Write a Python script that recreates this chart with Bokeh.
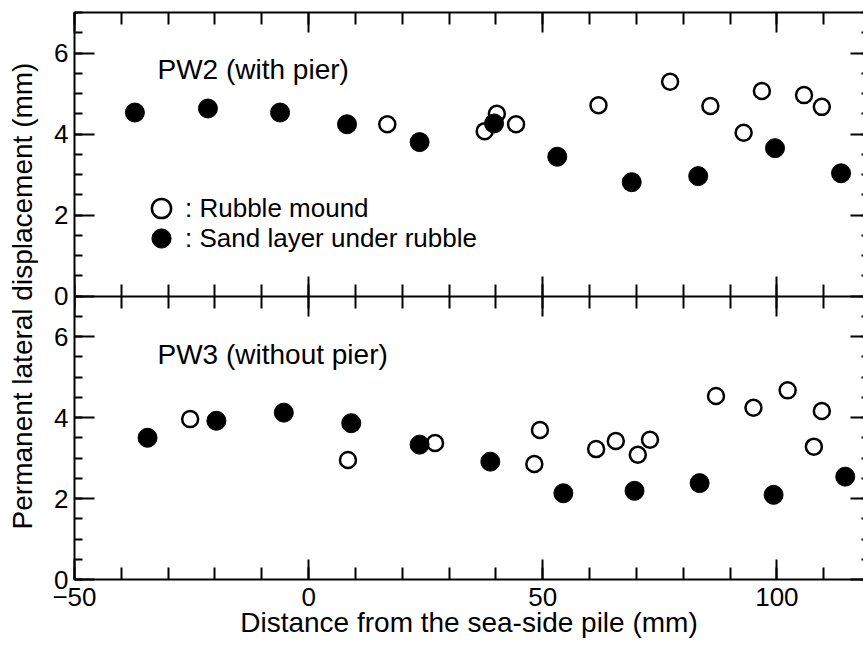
from bokeh.plotting import figure
from bokeh.models import (Range1d, LinearAxis, SingleIntervalTicker, FixedTicker,
                          Legend, LegendItem, Label, ColumnDataSource)
from bokeh.embed import file_html
from bokeh.resources import INLINE

# ---- data (distance from sea-side pile in mm, permanent lateral displacement in mm)
pw2_rubble_x = [16.8, 37.6, 40.2, 44.3, 61.9, 77.2, 85.8, 92.9, 96.8, 105.8, 109.6]
pw2_rubble_y = [4.24, 4.07, 4.50, 4.24, 4.71, 5.29, 4.69, 4.03, 5.06, 4.96, 4.67]
pw2_sand_x = [-37.1, -21.5, -6.1, 8.2, 23.7, 39.6, 53.1, 69.0, 83.2, 99.6, 113.7]
pw2_sand_y = [4.53, 4.63, 4.53, 4.24, 3.80, 4.26, 3.44, 2.81, 2.96, 3.65, 3.03]

pw3_rubble_x = [-25.3, 8.4, 27.0, 48.2, 49.4, 61.4, 65.6, 70.3, 72.9, 87.0, 95.0, 102.3, 107.9, 109.6]
pw3_rubble_y = [3.96, 2.95, 3.37, 2.85, 3.69, 3.22, 3.42, 3.08, 3.45, 4.53, 4.24, 4.67, 3.28, 4.16]
pw3_sand_x = [-34.4, -19.7, -5.3, 9.1, 23.7, 38.8, 54.4, 69.6, 83.5, 99.3, 114.6]
pw3_sand_y = [3.50, 3.92, 4.12, 3.86, 3.33, 2.91, 2.13, 2.19, 2.38, 2.09, 2.54]

panel_titles = ["PW2 (with pier)", "PW3 (without pier)"]
legend_labels = [": Rubble mound", ": Sand layer under rubble"]
y_tick_values = [0, 2, 4, 6]
panel_span = 7          # each panel shows 0..7 mm
x_title = "Distance from the sea-side pile (mm)"
y_title = "Permanent lateral displacement (mm)"

FONT = "Liberation Sans"
TXT = "28px"

p = figure(width=863, height=646, output_backend="svg", toolbar_location=None,
           x_range=Range1d(-50, 118.5), y_range=Range1d(0, 2 * panel_span),
           x_axis_type=None, y_axis_type=None,
           min_border_left=74, min_border_right=0, min_border_top=12, min_border_bottom=67)
p.extra_y_ranges = {"upper": Range1d(-panel_span, panel_span)}
p.outline_line_color = None
p.background_fill_color = "white"
p.border_fill_color = "white"


def style(ax, major_in, minor_in, major_out=0, minor_out=0, labels=True, line=True):
    ax.major_tick_in = major_in
    ax.major_tick_out = major_out
    ax.minor_tick_in = minor_in
    ax.minor_tick_out = minor_out
    ax.major_tick_line_width = 2
    ax.minor_tick_line_width = 2
    ax.major_tick_line_color = "black"
    ax.minor_tick_line_color = "black"
    ax.axis_line_width = 2
    ax.axis_line_color = "black" if line else None
    ax.major_label_text_font = FONT
    if labels:
        ax.major_label_text_font_size = "26px"
        ax.major_label_text_color = "black"
    else:
        ax.major_label_text_font_size = "0px"
        ax.major_label_text_color = None
        ax.major_label_standoff = 0


def x_ticker():
    return SingleIntervalTicker(interval=50, num_minor_ticks=5)


y_major = y_tick_values + [t + panel_span for t in y_tick_values]
y_minor = [i * 0.5 for i in range(0, 4 * panel_span + 1)]
y_overrides = {t: str(t) for t in y_tick_values}
y_overrides.update({t + panel_span: str(t) for t in y_tick_values})

# bottom x axis with labels
xb = LinearAxis(ticker=x_ticker())
style(xb, 20, 12)
xb.major_label_standoff = 8
xb.axis_label = x_title
xb.axis_label_text_font = FONT
xb.axis_label_text_font_size = TXT
xb.axis_label_text_font_style = "normal"
xb.axis_label_text_color = "black"
xb.axis_label_standoff = -2
p.add_layout(xb, "below")

# middle shared border with crossing ticks
xm = LinearAxis(ticker=x_ticker(), fixed_location=panel_span)
style(xm, 20, 12, major_out=20, minor_out=12, labels=False)
p.add_layout(xm, "below")

# top border
xt = LinearAxis(ticker=x_ticker())
style(xt, 20, 12, labels=False)
p.add_layout(xt, "above")

# left axis
yl = LinearAxis(ticker=FixedTicker(ticks=y_major, minor_ticks=y_minor))
style(yl, 20, 8)
yl.major_label_overrides = y_overrides
yl.major_label_standoff = 6
yl.axis_label = y_title
yl.axis_label_text_font = FONT
yl.axis_label_text_font_size = TXT
yl.axis_label_text_font_style = "normal"
yl.axis_label_text_color = "black"
yl.axis_label_standoff = 13
p.add_layout(yl, "left")

# right axis (ticks only)
yr = LinearAxis(ticker=FixedTicker(ticks=y_major, minor_ticks=y_minor))
style(yr, 13, 2, labels=False, line=False)
p.add_layout(yr, "right")

p.xgrid.grid_line_color = None
p.ygrid.grid_line_color = None

# ---- points
src_pw2_r = ColumnDataSource(dict(x=pw2_rubble_x, y=pw2_rubble_y))
src_pw2_s = ColumnDataSource(dict(x=pw2_sand_x, y=pw2_sand_y))
src_pw3_r = ColumnDataSource(dict(x=pw3_rubble_x, y=pw3_rubble_y))
src_pw3_s = ColumnDataSource(dict(x=pw3_sand_x, y=pw3_sand_y))

open_kw = dict(size=16, fill_color="white", line_color="black", line_width=2.5)
fill_kw = dict(size=19, fill_color="black", line_color="black", line_width=1)

r_open_top = p.scatter("x", "y", source=src_pw2_r, y_range_name="upper", **open_kw)
r_fill_top = p.scatter("x", "y", source=src_pw2_s, y_range_name="upper", **fill_kw)
p.scatter("x", "y", source=src_pw3_r, **open_kw)
p.scatter("x", "y", source=src_pw3_s, **fill_kw)

# ---- panel titles
for txt, ypos in zip(panel_titles, [510, 225]):
    p.add_layout(Label(x=83, y=ypos, x_units="screen", y_units="screen", text=txt,
                       text_font=FONT, text_font_size=TXT, text_color="black",
                       text_baseline="alphabetic"))

# ---- legend (one per row so rows sit close together)
for lab, rend, ly in zip(legend_labels, [r_open_top, r_fill_top], [347, 317]):
    lg = Legend(items=[LegendItem(label=lab, renderers=[rend])],
                location=(63, ly), glyph_width=48, glyph_height=48, spacing=0,
                label_standoff=0, padding=0, margin=0, border_line_color=None,
                background_fill_alpha=0, label_text_font=FONT,
                label_text_font_size="26px", label_text_color="black")
    p.add_layout(lg)

open("out.html", "w").write(file_html(p, INLINE))
